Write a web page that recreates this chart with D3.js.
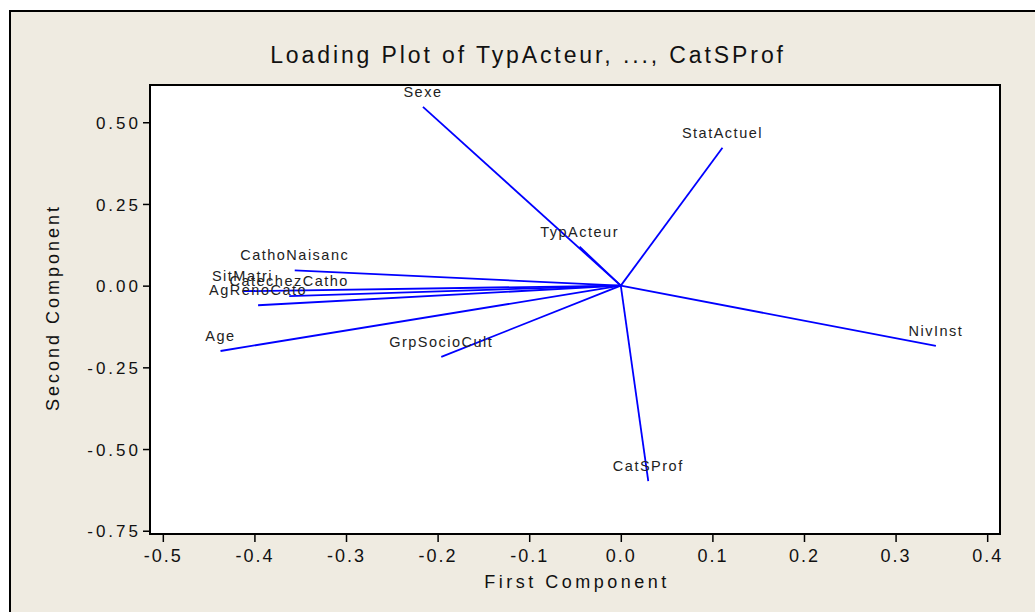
<!DOCTYPE html>
<html>
<head>
<meta charset="utf-8">
<script src="https://cdn.jsdelivr.net/npm/d3@7"></script>
<style>
  body { margin: 0; background: #fff; }
  text { font-family: "Liberation Sans", Arial, sans-serif; fill: #111; }
</style>
</head>
<body>
<svg id="chart" width="1035" height="612"></svg>
<script>
// loadings
var variables = ["TypActeur", "Sexe", "StatActuel", "NivInst", "GrpSocioCult", "Age",
                 "AgRenoCato", "CatechezCatho", "SitMatri", "CathoNaisanc", "CatSProf"];
var pc1 = [-0.045, -0.216, 0.111, 0.344, -0.196, -0.437, -0.396, -0.362, -0.413, -0.356, 0.030];
var pc2 = [0.119, 0.547, 0.422, -0.184, -0.218, -0.200, -0.060, -0.032, -0.017, 0.047, -0.598];

var xTicks = [-0.5, -0.4, -0.3, -0.2, -0.1, 0.0, 0.1, 0.2, 0.3, 0.4];
var yTicks = [0.50, 0.25, 0.00, -0.25, -0.50, -0.75];

var svg = d3.select("#chart");

// -------- frame ----------
svg.append("rect")
  .attr("x", 10).attr("y", 11)
  .attr("width", 1100).attr("height", 700)
  .attr("fill", "#efebe1")
  .attr("stroke", "#000")
  .attr("stroke-width", 2);

var pL = 150, pR = 1000, pT = 85, pB = 534;

var x = d3.scaleLinear().domain([-0.514, 0.414]).range([pL, pR]);
var y = d3.scaleLinear().domain([-0.76, 0.614]).range([pB, pT]);

function hyph(f) { return function(d) { return f(d).replace("\u2212", "-"); }; }

svg.append("rect")
  .attr("x", pL).attr("y", pT)
  .attr("width", pR - pL).attr("height", pB - pT)
  .attr("fill", "#fff");

// -------- title ----------
svg.append("text")
  .attr("x", 528).attr("y", 63)
  .attr("text-anchor", "middle")
  .style("font-size", "23px")
  .style("letter-spacing", "2.9px")
  .text("Loading Plot of TypActeur, ..., CatSProf");

// -------- axes ----------
var xAxis = svg.append("g")
  .attr("transform", "translate(0," + pB + ")")
  .call(d3.axisBottom(x).tickValues(xTicks).tickSize(8).tickSizeOuter(0)
        .tickFormat(hyph(d3.format(".1f"))));
xAxis.select(".domain").remove();
xAxis.selectAll(".tick line").attr("stroke", "#000").attr("stroke-width", 1.5);
xAxis.selectAll(".tick text")
  .attr("y", 28).attr("dy", 0)
  .style("font-size", "18px")
  .style("letter-spacing", "2px")
  .style("fill", "#111")
  .style("font-family", "Liberation Sans, Arial, sans-serif");

var yAxis = svg.append("g")
  .attr("transform", "translate(" + pL + ",0)")
  .call(d3.axisLeft(y).tickValues(yTicks).tickSize(7).tickSizeOuter(0)
        .tickFormat(hyph(d3.format(".2f"))));
yAxis.select(".domain").remove();
yAxis.selectAll(".tick text")
  .attr("x", -9).attr("dy", "0.36em")
  .style("font-size", "17px")
  .style("letter-spacing", "3px")
  .style("fill", "#111")
  .style("font-family", "Liberation Sans, Arial, sans-serif");
yAxis.selectAll(".tick line").attr("stroke", "#000").attr("stroke-width", 1.5);

svg.append("text")
  .attr("x", (pL + pR) / 2 + 2).attr("y", 588)
  .attr("text-anchor", "middle")
  .style("font-size", "18px")
  .style("letter-spacing", "3.5px")
  .text("First Component");

svg.append("text")
  .attr("transform", "translate(59," + ((pT + pB) / 2 - 2) + ") rotate(-90)")
  .attr("text-anchor", "middle")
  .style("font-size", "18px")
  .style("letter-spacing", "3px")
  .text("Second Component");

// -------- loadings ----------
var data = variables.map(function(v, i) { return { name: v, a: pc1[i], b: pc2[i] }; });

svg.selectAll(".load")
  .data(data)
  .enter().append("line")
  .attr("class", "load")
  .attr("x1", x(0)).attr("y1", y(0))
  .attr("x2", function(d) { return x(d.a); })
  .attr("y2", function(d) { return y(d.b); })
  .attr("stroke", "#0000ff")
  .attr("stroke-width", 1.8);

svg.selectAll(".lab")
  .data(data)
  .enter().append("text")
  .attr("class", "lab")
  .attr("x", function(d) { return x(d.a); })
  .attr("y", function(d) { return y(d.b) - 10; })
  .attr("text-anchor", "middle")
  .style("font-size", "14.5px")
  .style("letter-spacing", "1.5px")
  .style("fill", "#222")
  .text(function(d) { return d.name; });

// plot border on top
svg.append("rect")
  .attr("x", pL).attr("y", pT)
  .attr("width", pR - pL).attr("height", pB - pT)
  .attr("fill", "none")
  .attr("stroke", "#000")
  .attr("stroke-width", 2);
</script>
</body>
</html>
